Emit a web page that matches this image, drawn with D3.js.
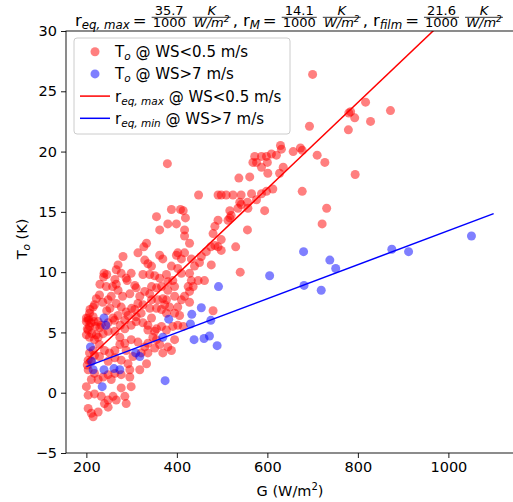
<!DOCTYPE html>
<html>
<head>
<meta charset="utf-8">
<script src="https://cdn.jsdelivr.net/npm/d3@7"></script>
<style>
  body { margin: 0; background: #fff; }
  text { font-family: "DejaVu Sans", sans-serif; }
</style>
</head>
<body>
<div id="chart"></div>
<script>
// T_o vs G, WS < 0.5 m/s (red)
var lowWindG = [629, 631, 620, 609, 598, 587, 572, 576, 568, 600, 601, 635, 657, 627, 587, 537, 561, 612, 598, 587,
  565, 542, 524, 509, 498, 491, 448, 556, 557, 542, 535, 539, 517, 520, 517, 513, 576, 594, 556, 491,
  484, 480, 498, 491, 498, 530, 475, 465, 454, 450, 439, 432, 417, 410, 399, 388, 402, 410, 428, 432,
  436, 428, 447, 461, 476, 540, 484,
  388, 408, 414, 419, 355, 380, 399, 362, 417, 417, 428, 402, 333, 327, 314, 329, 336, 344, 362, 369,
  281, 270, 266, 277, 239, 238, 244, 263, 266, 288, 307, 310, 296, 299, 325, 340, 351, 362, 377, 380,
  391, 395, 380, 366, 355, 344, 340, 329, 318, 314, 325, 344, 358, 369, 377, 373, 384, 402, 410, 417,
  425, 395, 428, 480, 377, 395, 406, 366, 355, 340, 321, 307, 288, 277, 266, 255, 248, 229, 218, 215,
  207, 204, 200, 207, 217, 226, 233, 248, 259, 270, 285, 292, 299, 310, 325, 336, 344, 355, 366, 377,
  391, 402, 414, 351, 336, 347, 355, 336, 329, 321, 314, 299, 285, 274, 263, 248, 237, 226, 218, 207,
  204, 200, 215, 229, 240, 251, 263, 274, 288, 303, 292, 277, 263, 248, 229, 218, 207, 204, 204, 218,
  211, 226, 237, 248, 263, 277, 296, 318, 333, 336, 351, 362, 369, 380, 388, 395, 277, 285, 288, 266,
  259, 248, 240, 233, 218, 204, 204, 211, 215, 226, 248, 299, 296, 255, 200,
  205, 210, 202, 212, 220, 208, 200, 215, 222, 230, 202, 210,
  379, 230, 245, 252, 258, 270, 280, 290, 300, 310, 245, 262, 275, 285, 236, 222,
  700, 817, 780, 784, 793, 872, 828, 779, 693, 673, 677, 710, 727, 794, 677, 731, 721];
var lowWindT = [20.5, 20.2, 19.7, 19.8, 19.6, 19.6, 19.6, 19.1, 19.1, 19.1, 18.2, 18.7, 20.0, 18.2, 18.7, 17.8, 17.9, 16.9, 16.7, 16.5,
  16.5, 16.4, 16.4, 16.4, 16.4, 16.4, 16.4, 15.8, 15.3, 15.6, 15.3, 15.8, 15.1, 14.7, 14.5, 14.3, 16.0, 15.1, 13.5, 14.3,
  13.8, 13.2, 12.7, 12.1, 11.8, 12.1, 12.1, 11.7, 11.3, 10.8, 10.5, 11.1, 11.6, 11.1, 11.4, 10.5, 10.3, 9.9, 9.9, 9.3,
  8.8, 8.4, 9.3, 9.3, 10.6, 10.0, 12.2,
  15.2, 15.2, 15.1, 14.5, 14.6, 14.0, 14.0, 13.5, 13.5, 13.0, 12.4, 11.6, 12.4, 12.1, 11.6, 11.0, 10.7, 10.5, 11.4, 11.1,
  11.3, 10.6, 10.2, 9.9, 9.9, 9.6, 8.8, 9.4, 9.0, 9.5, 8.9, 8.7, 8.2, 9.9, 9.8, 9.8, 9.7, 9.5, 9.8, 9.2,
  9.3, 8.8, 8.5, 8.8, 8.7, 8.8, 8.2, 8.4, 8.0, 7.4, 7.3, 7.7, 7.7, 7.8, 7.7, 7.3, 7.1, 7.1, 7.7, 8.0,
  8.8, 8.0, 7.5, 6.8, 6.6, 6.6, 6.4, 6.9, 7.0, 7.0, 6.6, 6.9, 6.7, 7.1, 7.4, 8.0, 7.7, 8.1, 7.3, 7.1,
  6.6, 6.2, 5.9, 5.5, 5.9, 5.9, 5.6, 5.8, 6.2, 6.4, 6.0, 6.4, 5.6, 5.9, 5.8, 5.6, 6.2, 5.3, 5.5, 5.2,
  5.5, 5.6, 5.5, 5.1, 5.2, 4.6, 4.4, 4.1, 3.8, 3.3, 4.2, 4.4, 4.1, 4.6, 5.1, 5.1, 4.9, 4.6, 4.4, 4.6,
  5.2, 4.8, 3.5, 4.0, 3.5, 3.3, 3.5, 4.0, 3.5, 3.0, 2.4, 2.7, 2.9, 2.6, 3.0, 3.1, 3.3, 2.7, 1.9, 1.6,
  1.1, 1.1, 1.3, 1.5, 1.6, 1.5, 1.9, 1.9, 2.4, 3.3, 3.7, 4.0, 3.3, 3.8, 3.5, 4.4, 0.4, -0.3, -0.9, -0.6,
  -0.3, -1.2, -0.9, -0.3, -0.1, -0.2, -1.3, -1.7, -2.0, -1.6, -0.6, 0.5, 1.3, 1.1, 0.5,
  6.0, 5.8, 5.3, 4.9, 5.5, 6.9, 6.2, 6.3, 4.8, 5.4, 2.3, 2.6,
  19.0, 9.0, 9.8, 7.0, 8.8, 8.5, 8.0, 9.3, 7.0, 6.3, 6.8, 6.0, 5.6, 5.3, 7.5, 7.8,
  26.4, 24.1, 23.2, 23.3, 22.8, 23.4, 22.5, 21.8, 22.1, 20.3, 20.1, 19.7, 19.1, 18.1, 16.7, 15.3, 14.0];

// T_o vs G, WS > 7 m/s (blue)
var highWindG = [680, 738, 751, 681, 719, 875, 912, 1051, 605, 492, 454, 433, 382, 475, 430, 438, 460, 472, 489, 369,
  374, 239, 243, 209, 212, 215, 239, 261, 274, 235, 309, 318];
var highWindT = [11.7, 11.0, 10.3, 8.9, 8.5, 11.9, 11.7, 13.0, 9.7, 8.8, 7.05, 6.5, 6.1, 6.0, 5.7, 4.4, 4.5, 4.7, 3.9, 4.6,
  1.0, 6.2, 5.6, 3.8, 2.6, 1.9, 1.9, 2.0, 1.9, 0.5, 3.3, 3.0];

// fitted lines: slope (K per W/m2) and intercept (K), drawn over G range
var fitSlopes = [0.0357, 0.0141];
var fitIntercepts = [-4.49, -0.66];
var fitRange = [200, 1100];

// title coefficients (x1000)
var rNames = ["eq, max", "M", "film"];
var rValues = ["35.7", "14.1", "21.6"];

var xTicks = [200, 400, 600, 800, 1000];
var yTicks = [-5, 0, 5, 10, 15, 20, 25, 30];

var legendLabels = [
  {kind: "dot", color: "red", main: "T", sub: "o", rest: " @ WS<0.5 m/s"},
  {kind: "dot", color: "blue", main: "T", sub: "o", rest: " @ WS>7 m/s"},
  {kind: "line", color: "red", main: "r", sub: "eq, max", rest: " @ WS<0.5 m/s"},
  {kind: "line", color: "blue", main: "r", sub: "eq, min", rest: " @ WS>7 m/s"}
];

var W = 513, H = 502,
  pL = 66, pT = 31, pR = 514, pB = 453;

var x = d3.scaleLinear().domain([155, 1145]).range([pL, pR]);
var y = d3.scaleLinear().domain([-5, 30]).range([pB, pT]);

var svg = d3.select("#chart").append("svg")
  .attr("width", W)
  .attr("height", H)
  .style("display", "block");

svg.append("clipPath").attr("id", "plotclip")
  .append("rect")
  .attr("x", pL).attr("y", pT)
  .attr("width", pR - pL).attr("height", pB - pT);

var plot = svg.append("g").attr("clip-path", "url(#plotclip)");

var redPts = lowWindG.map(function(g, i) { return [g, lowWindT[i]]; });
var bluePts = highWindG.map(function(g, i) { return [g, highWindT[i]]; });

plot.selectAll(".red").data(redPts).enter().append("circle")
  .attr("cx", function(d) { return x(d[0]); })
  .attr("cy", function(d) { return y(d[1]); })
  .attr("r", 4.5)
  .attr("fill", "red")
  .attr("fill-opacity", 0.5);

plot.selectAll(".blue").data(bluePts).enter().append("circle")
  .attr("cx", function(d) { return x(d[0]); })
  .attr("cy", function(d) { return y(d[1]); })
  .attr("r", 4.5)
  .attr("fill", "blue")
  .attr("fill-opacity", 0.5);

var line = d3.line()
  .x(function(d) { return x(d[0]); })
  .y(function(d) { return y(d[1]); });

["red", "blue"].forEach(function(c, i) {
  var pts = fitRange.map(function(g) { return [g, fitSlopes[i] * g + fitIntercepts[i]]; });
  plot.append("path")
    .attr("d", line(pts))
    .attr("fill", "none")
    .attr("stroke", c)
    .attr("stroke-width", 1.5);
});

// axes
var xAxis = d3.axisBottom(x).tickValues(xTicks).tickSize(5).tickPadding(4)
  .tickFormat(d3.format("d"));
var yAxis = d3.axisLeft(y).tickValues(yTicks).tickSize(5).tickPadding(4)
  .tickFormat(function(d) { return d < 0 ? "\u2212" + Math.abs(d) : d; });

svg.append("g").attr("class", "axis")
  .attr("transform", "translate(0," + pB + ")")
  .call(xAxis);
svg.append("g").attr("class", "axis")
  .attr("transform", "translate(" + pL + ",0)")
  .call(yAxis);

svg.selectAll(".axis .domain").remove();
svg.selectAll(".axis line").attr("stroke", "#000").attr("stroke-width", 0.9);
svg.selectAll(".axis text")
  .attr("font-family", "DejaVu Sans")
  .attr("font-size", 14.5)
  .attr("fill", "#000");

svg.append("rect")
  .attr("x", pL).attr("y", pT)
  .attr("width", pR - pL).attr("height", pB - pT)
  .attr("fill", "none").attr("stroke", "#000").attr("stroke-width", 0.9);

// axis labels
var xl = svg.append("text")
  .attr("x", (pL + pR) / 2)
  .attr("y", 496)
  .attr("text-anchor", "middle")
  .attr("font-size", 14.5);
xl.append("tspan").text("G (W/m");
xl.append("tspan").attr("font-size", 10).attr("dy", -6).text("2");
xl.append("tspan").attr("dy", 6).text(")");

var yl = svg.append("text")
  .attr("transform", "translate(27," + ((pT + pB) / 2 - 3) + ") rotate(-90)")
  .attr("text-anchor", "middle")
  .attr("font-size", 14.5);
yl.append("tspan").text("T");
yl.append("tspan").attr("font-size", 10.5).attr("font-style", "italic").attr("dy", 3).text("o");
yl.append("tspan").attr("dy", -3).text(" (K)");

// legend
var lg = svg.append("g").attr("transform", "translate(74,38)");
lg.append("rect")
  .attr("width", 216).attr("height", 96)
  .attr("rx", 3)
  .attr("fill", "#fff").attr("fill-opacity", 0.8)
  .attr("stroke", "#ccc").attr("stroke-width", 1);

legendLabels.forEach(function(d, i) {
  var cy = 13.7 + i * 22.2;
  if (d.kind === "dot") {
    lg.append("circle").attr("cx", 21).attr("cy", cy).attr("r", 4.5)
      .attr("fill", d.color).attr("fill-opacity", 0.5);
  } else {
    lg.append("line").attr("x1", 6).attr("x2", 36).attr("y1", cy).attr("y2", cy)
      .attr("stroke", d.color).attr("stroke-width", 1.5);
  }
  var t = lg.append("text").attr("x", 41).attr("y", cy + 5.5).attr("font-size", 15);
  t.append("tspan").text(d.main);
  t.append("tspan").attr("font-size", 10.5).attr("font-style", "italic").attr("dy", 3).text(d.sub);
  t.append("tspan").attr("dy", -3).text(d.rest);
});

// title with stacked fractions
var tg = svg.append("g");
var base = 25.5, axisY = 17.3;
var cursor = 0;

function piece(str, size, italic, dy) {
  var t = tg.append("text")
    .attr("x", cursor).attr("y", base + (dy || 0))
    .attr("font-size", size)
    .attr("font-style", italic ? "italic" : "normal")
    .text(str);
  cursor += t.node().getComputedTextLength();
  return t;
}

function frac(num, den, italic) {
  var size = 13;
  var n = tg.append("text").attr("y", axisY - 2.5).attr("font-size", size)
    .attr("text-anchor", "middle").attr("font-style", italic ? "italic" : "normal").text(num);
  var dd = tg.append("text").attr("y", axisY + 9.8).attr("font-size", size)
    .attr("text-anchor", "middle").attr("font-style", italic ? "italic" : "normal");
  dd.append("tspan").text(den);
  if (italic) {
    dd.append("tspan").attr("font-size", 9).attr("dy", -5).text("2");
  }
  var w = Math.max(n.node().getBBox().width, dd.node().getBBox().width) + 2;
  var cx = cursor + 2 + w / 2;
  n.attr("x", cx);
  dd.attr("x", cx);
  tg.append("line")
    .attr("x1", cursor + 2).attr("x2", cursor + 2 + w)
    .attr("y1", axisY).attr("y2", axisY)
    .attr("stroke", "#000").attr("stroke-width", 0.8);
  cursor += w + 4;
}

rNames.forEach(function(name, i) {
  piece("r", 16.5);
  piece(name, 11.8, true, 3);
  cursor += 3;
  piece("=", 16.5);
  cursor += 3;
  frac(rValues[i], "1000", false);
  cursor += 2;
  frac("K", "W/m", true);
  if (i < rNames.length - 1) {
    piece(",", 16.5);
    cursor += 5;
  }
});
var tw = cursor;
tg.attr("transform", "translate(" + ((pL + pR) / 2 - tw / 2) + ",0)");
</script>
</body>
</html>
